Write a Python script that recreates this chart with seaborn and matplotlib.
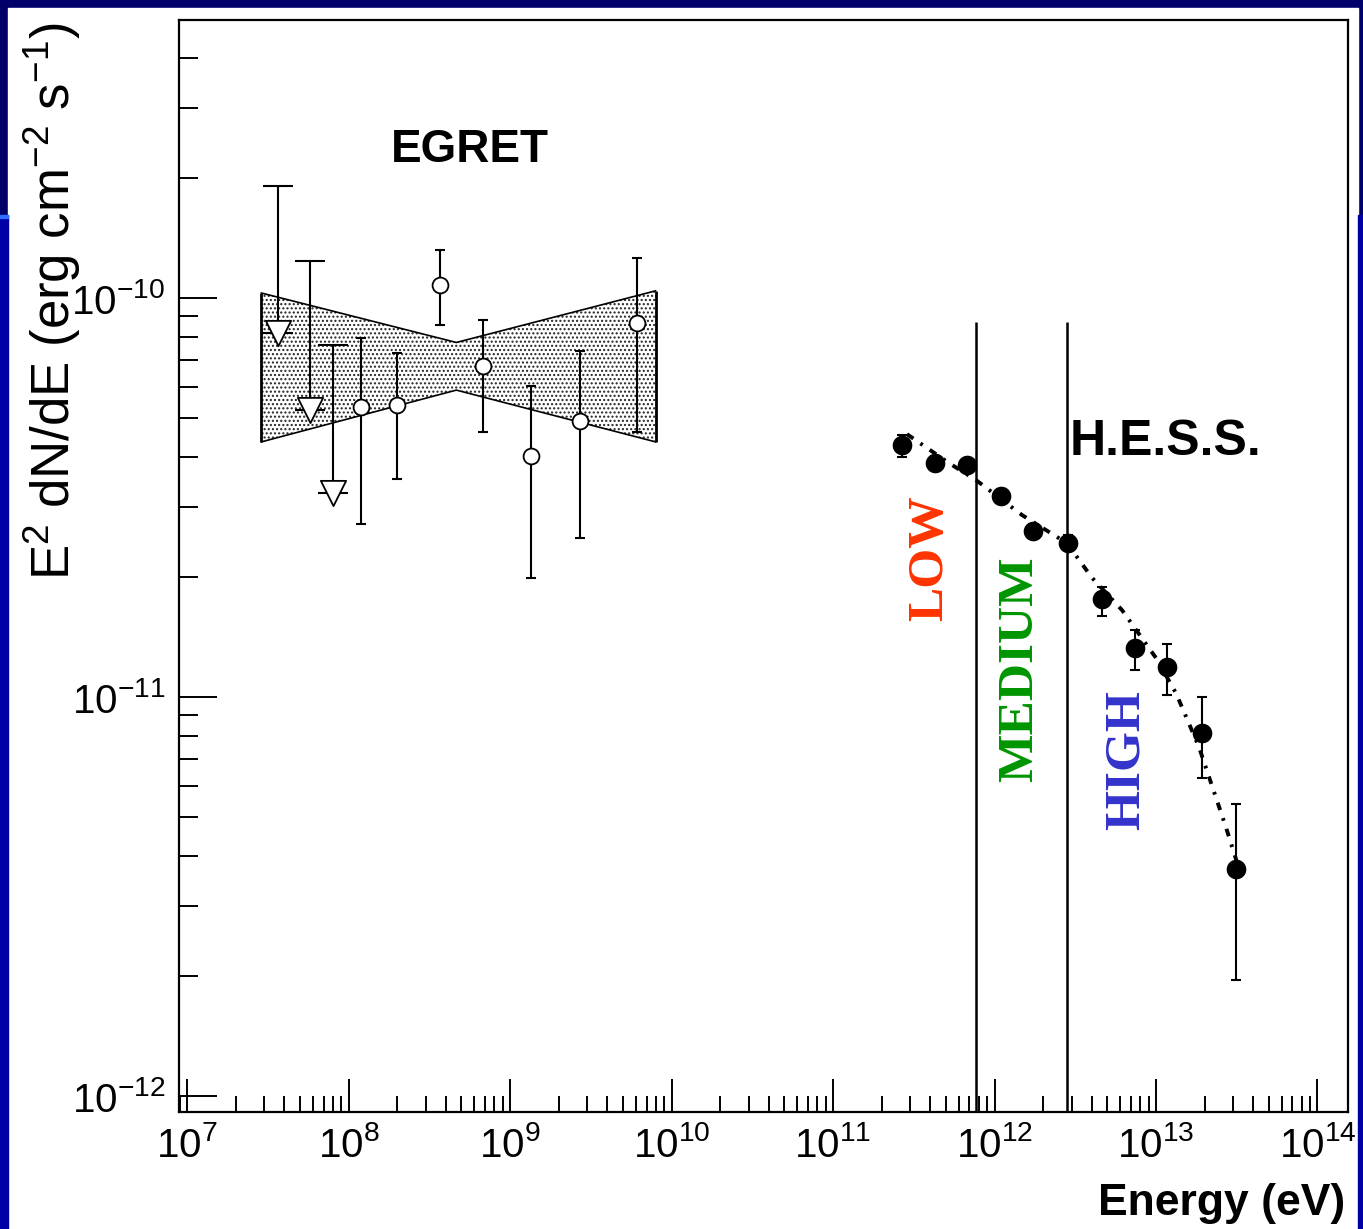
import numpy as np
import matplotlib
matplotlib.use('Agg')
import matplotlib.pyplot as plt
import matplotlib.ticker as mticker
from matplotlib.patches import Rectangle
import seaborn as sns

sns.set_style('ticks')
plt.rcParams['font.family'] = ['Liberation Sans', 'DejaVu Sans']
plt.rcParams['mathtext.fontset'] = 'custom'
plt.rcParams['mathtext.rm'] = 'Liberation Sans'
plt.rcParams['mathtext.it'] = 'Liberation Sans:italic'
plt.rcParams['mathtext.bf'] = 'Liberation Sans:bold'
plt.rcParams['axes.unicode_minus'] = False
plt.rcParams['hatch.linewidth'] = 1.0
for key in ['text.color', 'axes.labelcolor', 'xtick.color', 'ytick.color', 'axes.edgecolor']:
    plt.rcParams[key] = 'black'

# EGRET upper limits (triangles): energy, value, top of bar
ul_E = [3.67e7, 5.8e7, 8.0e7]
ul_F = [8.17e-11, 5.24e-11, 3.25e-11]
ul_top = [1.91e-10, 1.24e-10, 7.64e-11]

# EGRET points (open circles)
eg_E = [1.19e8, 2.0e8, 3.69e8, 6.78e8, 1.355e9, 2.71e9, 6.09e9]
eg_F = [5.32e-11, 5.40e-11, 1.078e-10, 6.75e-11, 4.03e-11, 4.93e-11, 8.64e-11]
eg_lo = [2.72e-11, 3.52e-11, 8.56e-11, 4.61e-11, 1.99e-11, 2.51e-11, 4.61e-11]
eg_hi = [7.95e-11, 7.28e-11, 1.318e-10, 8.81e-11, 6.02e-11, 7.38e-11, 1.26e-10]

# EGRET butterfly
bow_E = [2.88e7, 4.65e8, 7.98e9]
bow_lo = [4.36e-11, 5.88e-11, 4.36e-11]
bow_hi = [1.03e-10, 7.74e-11, 1.043e-10]

# H.E.S.S. spectrum
hess_E = [2.69e11, 4.28e11, 6.79e11, 1.093e12, 1.73e12, 2.86e12,
          4.65e12, 7.41e12, 1.175e13, 1.935e13, 3.14e13]
hess_F = [4.28e-11, 3.87e-11, 3.81e-11, 3.19e-11, 2.61e-11, 2.44e-11,
          1.76e-11, 1.327e-11, 1.191e-11, 8.13e-12, 3.71e-12]
hess_lo = [4.0e-11, 3.72e-11, 3.67e-11, 3.06e-11, 2.50e-11, 2.33e-11,
           1.60e-11, 1.17e-11, 1.014e-11, 6.26e-12, 1.955e-12]
hess_hi = [4.55e-11, 4.02e-11, 3.95e-11, 3.32e-11, 2.72e-11, 2.55e-11,
           1.89e-11, 1.476e-11, 1.356e-11, 1.002e-11, 5.40e-12]

# fitted curve
fit_E = [2.87e11, 5.22e11, 7.67e11, 1.479e12, 2.81e12, 4.02e12, 6.16e12,
         1.0e13, 1.33e13, 1.846e13, 2.71e13, 3.17e13]
fit_F = [4.56e-11, 3.86e-11, 3.50e-11, 2.86e-11, 2.43e-11, 1.99e-11, 1.652e-11,
         1.253e-11, 1.023e-11, 7.49e-12, 4.72e-12, 3.86e-12]

# band boundaries
band_E = [7.67e11, 2.81e12]
band_top = 8.7e-11

xlim = (10 ** 6.95, 10 ** 14.189)
ylim = (10 ** -12.04, 10 ** -9.303)
x_major = [1e7, 1e8, 1e9, 1e10, 1e11, 1e12, 1e13, 1e14]
y_major = [1e-12, 1e-11, 1e-10]

fig = plt.figure(figsize=(13.63, 12.29), dpi=100, facecolor='#00006b')
W, H = 1363, 1229
fig.patches.append(Rectangle((8 / W, 0), (1358 - 8) / W, 1 - 8 / H,
                             transform=fig.transFigure, color='white', zorder=-10))
fig.patches.append(Rectangle((0, 0), 8 / W, 1 - 215 / H,
                             transform=fig.transFigure, color='#0000a6', zorder=-10))
fig.patches.append(Rectangle((0, 1 - 218 / H), 8 / W, 3 / H,
                             transform=fig.transFigure, color='#2f6fff', zorder=-10))
fig.patches.append(Rectangle((1358 / W, 0), 5 / W, 1 - 215 / H,
                             transform=fig.transFigure, color='#0000a6', zorder=-10))

ax = fig.add_axes([179 / W, 1 - 1112 / H, (1348 - 179) / W, (1112 - 20) / H])
ax.set_xscale('log')
ax.set_yscale('log')
ax.set_xlim(*xlim)
ax.set_ylim(*ylim)

# butterfly
ax.fill_between(bow_E, bow_lo, bow_hi, facecolor='white', edgecolor='#222222',
                hatch='....', linewidth=0, zorder=1)
ax.plot(bow_E, bow_hi, color='black', lw=1.2, zorder=2)
ax.plot(bow_E, bow_lo, color='black', lw=1.2, zorder=2)
ax.vlines([bow_E[0], bow_E[-1]], [bow_lo[0], bow_lo[-1]], [bow_hi[0], bow_hi[-1]],
          color='black', lw=2, zorder=2)

# EGRET upper limits
ul_up = np.array(ul_top) - np.array(ul_F)
ax.errorbar(ul_E, ul_F, yerr=[np.zeros(3), ul_up], fmt='none', ecolor='black',
            elinewidth=1.5, capsize=11, capthick=1.5, zorder=3)
sns.scatterplot(x=ul_E, y=ul_F, marker='v', s=330, facecolor='white',
                edgecolor='black', linewidth=1.3, ax=ax, zorder=4)

# EGRET points
eg_err = [np.array(eg_F) - np.array(eg_lo), np.array(eg_hi) - np.array(eg_F)]
ax.errorbar(eg_E, eg_F, yerr=eg_err, fmt='none', ecolor='black',
            elinewidth=1.5, capsize=3.8, capthick=1.5, zorder=3)
sns.scatterplot(x=eg_E, y=eg_F, marker='o', s=130, facecolor='white',
                edgecolor='black', linewidth=1.3, ax=ax, zorder=4)

# H.E.S.S. band lines
ax.vlines(band_E, ylim[0], band_top, color='black', lw=1.8, zorder=2)

# H.E.S.S. fit curve and points
sns.lineplot(x=fit_E, y=fit_F, sort=False, estimator=None, color='black',
             lw=2.8, linestyle=(0, (2, 2.2, 0.7, 2.2)), ax=ax, zorder=3)
hess_err = [np.array(hess_F) - np.array(hess_lo), np.array(hess_hi) - np.array(hess_F)]
ax.errorbar(hess_E, hess_F, yerr=hess_err, fmt='none', ecolor='black',
            elinewidth=1.5, capsize=3.8, capthick=1.5, zorder=3)
sns.scatterplot(x=hess_E, y=hess_F, marker='o', s=200, color='black',
                edgecolor='black', linewidth=0, ax=ax, zorder=4)

# labels inside plot
ax.text(5.65e8, 2.35e-10, 'EGRET', fontsize=33, fontweight='bold',
        ha='center', va='center')
ax.text(2.93e12, 4.35e-11, 'H.E.S.S.', fontsize=36, fontweight='bold',
        ha='left', va='center')
serif = ['Liberation Serif', 'DejaVu Serif']
ax.text(3.98e11, 2.23e-11, 'LOW', fontsize=37, fontweight='bold', family=serif,
        color='#ff3300', rotation=90, ha='center', va='center')
ax.text(1.44e12, 1.175e-11, 'MEDIUM', fontsize=37, fontweight='bold', family=serif,
        color='#009600', rotation=90, ha='center', va='center')
ax.text(6.6e12, 6.95e-12, 'HIGH', fontsize=37, fontweight='bold', family=serif,
        color='#3333cc', rotation=90, ha='center', va='center')

# axes styling, ROOT-like
for s in ['left', 'bottom', 'top', 'right']:
    ax.spines[s].set_linewidth(1.6)
    ax.spines[s].set_color('black')
x_minor = [m * 10.0 ** d for d in range(6, 15) for m in range(2, 10)]
y_minor = [m * 10.0 ** d for d in range(-13, -9) for m in range(2, 10)]
x_minor = [v for v in x_minor if xlim[0] <= v <= xlim[1]]
y_minor = [v for v in y_minor if ylim[0] <= v <= ylim[1]]
ax.xaxis.set_major_locator(mticker.FixedLocator(x_major))
ax.yaxis.set_major_locator(mticker.FixedLocator(y_major))
ax.xaxis.set_minor_locator(mticker.FixedLocator(x_minor))
ax.yaxis.set_minor_locator(mticker.FixedLocator(y_minor))
ax.xaxis.set_major_formatter(mticker.LogFormatterSciNotation())
ax.yaxis.set_major_formatter(mticker.LogFormatterSciNotation())
ax.xaxis.set_minor_formatter(mticker.NullFormatter())
ax.yaxis.set_minor_formatter(mticker.NullFormatter())
ax.tick_params(axis='x', which='major', direction='in', length=24, width=1.4,
               labelsize=29, pad=10, top=False)
ax.tick_params(axis='x', which='minor', direction='in', length=11.5, width=1.4, top=False)
ax.tick_params(axis='y', which='major', direction='in', length=27, width=1.4,
               labelsize=29, pad=10, right=False)
ax.tick_params(axis='y', which='minor', direction='in', length=13.5, width=1.4, right=False)

fig.text(1345 / W, 1 - 1203 / H, 'Energy (eV)', fontsize=32, fontweight='bold',
         ha='right', va='center')
fig.text(52 / W, 1 - 22 / H, r'E$^{2}$ dN/dE (erg cm$^{-2}$ s$^{-1}$)', fontsize=38,
         rotation=90, ha='center', va='top')

fig.savefig('out.png', dpi=100, facecolor=fig.get_facecolor())
